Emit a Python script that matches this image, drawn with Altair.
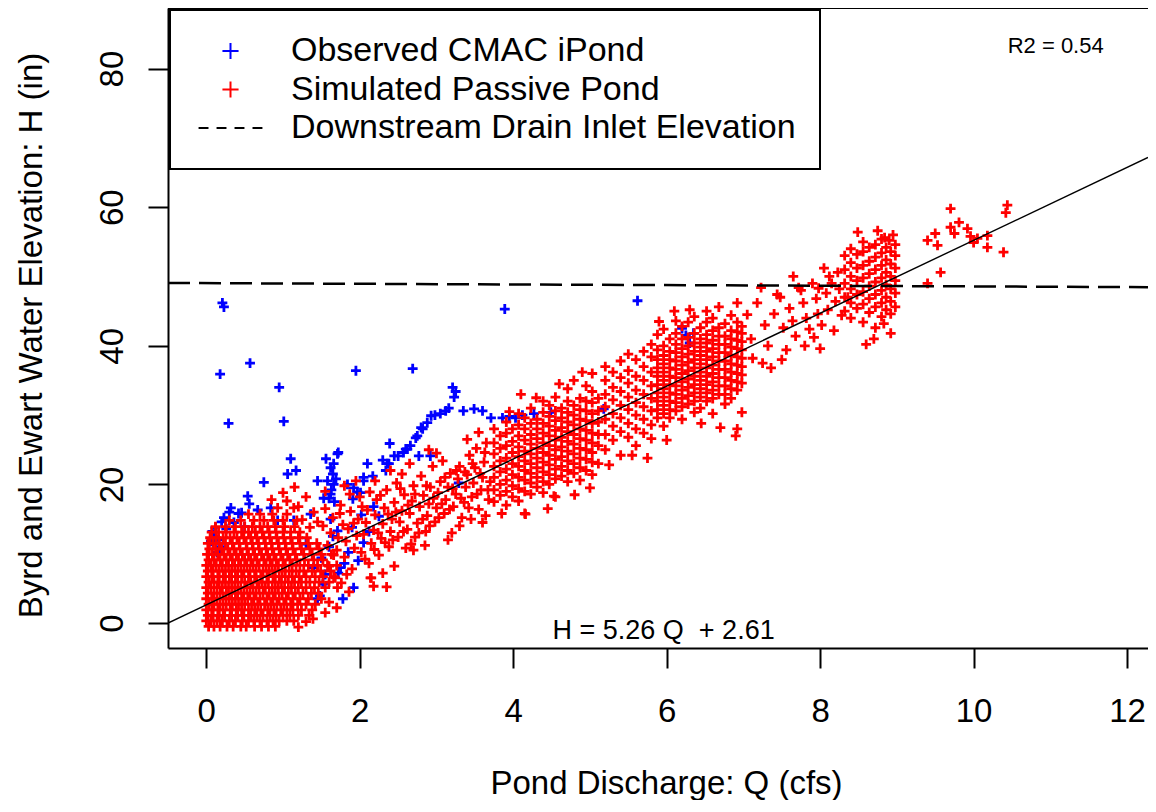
import altair as alt
import pandas as pd

FONT = "Liberation Sans"
SERIES = ["Observed CMAC iPond", "Simulated Passive Pond", "Downstream Drain Inlet Elevation"]
SERIES_COLORS = ["#0000ff", "#ff0000", "#000000"]
PLUS = "M-0.52,0H0.52M0,-0.52V0.52"
DASH = "M-2.06,0H-1.42M-0.9,0H-0.26M0.26,0H0.9M1.42,0H2.06"

x_ticks = [0, 2, 4, 6, 8, 10, 12]
y_ticks = [0, 20, 40, 60, 80]
x_domain = [-0.499, 12.273]
y_domain = [-3.61, 88.74]

# fitted line and drain elevation line (end points)
fit_q = [-0.499, 12.273]
fit_h = [-0.015, 67.17]
drain_q = [-0.499, 12.273]
drain_h = [49.06, 48.46]
# top frame line of the plot box
frame_q = [-0.499]
frame_q2 = [12.273]
frame_h = [88.74]

eq_text = ["H = 5.26 Q\u00a0 + 2.61"]
eq_q = [5.96]
eq_h = [-2.35]
r2_text = ["R2 = 0.54"]
r2_q = [11.07]
r2_h = [82.25]

# ---------------- Observed CMAC iPond (blue) ----------------
obs_outliers = [(0.21, 46.2), (0.23, 45.6), (0.18, 35.9), (0.57, 37.5), (0.29, 28.8), (0.95, 34.0),
                (1.01, 29.1), (1.95, 36.4), (2.69, 36.7), (3.89, 45.3), (5.62, 46.5)]
obs_trail = [(1.53, 18.0), (1.58, 20.5), (1.6, 18.0), (1.62, 18.6), (1.63, 19.2), (1.65, 21.5), (1.66, 20.0),
             (1.62, 22.4), (1.66, 23.0), (1.67, 17.5), (1.69, 20.8), (1.71, 24.4), (1.72, 24.6), (1.56, 23.7),
             (1.84, 20.0), (1.91, 17.9), (1.92, 19.5), (1.97, 18.9), (2.01, 18.8), (2.05, 20.5), (2.05, 21.0),
             (2.1, 23.0), (2.17, 21.2), (2.3, 23.5), (2.34, 22.0), (2.36, 23.0), (2.38, 23.0), (2.39, 25.9),
             (2.45, 24.1), (2.5, 24.1), (2.57, 24.6), (2.6, 25.1), (2.62, 25.1), (2.66, 25.6), (2.73, 26.7),
             (2.75, 27.0), (2.77, 24.1), (2.8, 28.2), (2.82, 28.0), (2.88, 28.9), (2.92, 24.1), (2.93, 29.9),
             (2.98, 30.0), (3.05, 30.2), (3.12, 30.6), (3.16, 31.0), (3.21, 34.0), (3.23, 32.6), (3.25, 33.4),
             (3.29, 20.2), (3.35, 30.6), (3.49, 30.9), (3.6, 30.6), (3.71, 29.6), (3.86, 29.6), (3.95, 29.8),
             (4.03, 29.6), (4.12, 30.0), (4.27, 30.2), (4.49, 30.4), (5.18, 30.9), (6.2, 42.5), (6.25, 41.5),
             (6.3, 40.4), (6.35, 41.8)]
obs_low = [(0.06, 11.8), (0.08, 13.2), (0.1, 12.4), (0.12, 13.8), (0.14, 10.2), (0.16, 12.0), (0.18, 11.0),
           (0.2, 14.6), (0.23, 15.2), (0.26, 13.6), (0.3, 16.0), (0.32, 16.6), (0.36, 14.5), (0.42, 15.8),
           (0.46, 15.9), (0.5, 13.9), (0.54, 18.3), (0.56, 17.2), (0.67, 16.3), (0.75, 20.3), (0.84, 16.6),
           (0.93, 14.8), (1.06, 21.5), (1.1, 23.7), (1.14, 14.8), (1.17, 22.0), (1.3, 11.4), (1.36, 15.7),
           (1.4, 8.0), (1.45, 3.5), (1.45, 20.5), (1.48, 3.9), (1.5, 9.4), (1.52, 5.6), (1.55, 7.0), (1.6, 11.0),
           (1.62, 15.0), (1.65, 12.5), (1.71, 13.3), (1.72, 7.2), (1.75, 8.0), (1.78, 3.5), (1.8, 8.6),
           (1.85, 10.2), (1.9, 13.8), (1.92, 5.1), (1.98, 9.0), (2.02, 15.6), (2.05, 11.6), (2.12, 13.2),
           (2.18, 16.8), (2.25, 15.4)]

# ---------------- Simulated Passive Pond (red) ----------------
# dense low-flow cloud, rows: H -> list of Q
sim_blob_rows = {
    -0.5: [0.03, 0.1, 0.18, 0.27, 0.35, 0.45, 0.52, 0.63, 0.72, 0.81, 0.9],
    0.3: [0.0, 0.06, 0.14, 0.21, 0.3, 0.38, 0.47, 0.55, 0.62, 0.7, 0.79, 0.87, 0.95, 1.05, 1.14],
    1.1: [0.02, 0.09, 0.17, 0.24, 0.33, 0.41, 0.49, 0.58, 0.66, 0.74, 0.83, 0.91, 1.0, 1.09, 1.2, 1.34],
    1.9: [0.0, 0.07, 0.15, 0.22, 0.31, 0.39, 0.46, 0.55, 0.63, 0.71, 0.8, 0.88, 0.97, 1.05, 1.13, 1.24, 1.38],
    2.7: [0.03, 0.1, 0.18, 0.26, 0.34, 0.42, 0.5, 0.59, 0.67, 0.76, 0.84, 0.92, 1.01, 1.1, 1.19, 1.3, 1.42],
    3.5: [0.0, 0.07, 0.14, 0.22, 0.3, 0.38, 0.46, 0.54, 0.62, 0.7, 0.79, 0.87, 0.95, 1.04, 1.13, 1.22, 1.33, 1.5],
    4.3: [0.02, 0.1, 0.18, 0.26, 0.33, 0.41, 0.49, 0.57, 0.65, 0.74, 0.82, 0.9, 0.99, 1.07, 1.16, 1.26, 1.37, 1.46],
    5.1: [0.0, 0.06, 0.14, 0.21, 0.29, 0.37, 0.45, 0.53, 0.61, 0.69, 0.77, 0.86, 0.94, 1.02, 1.11, 1.2, 1.3, 1.41, 1.55],
    5.9: [0.03, 0.1, 0.17, 0.25, 0.33, 0.41, 0.5, 0.58, 0.66, 0.73, 0.81, 0.9, 0.98, 1.07, 1.15, 1.24, 1.35, 1.47, 1.6],
    6.7: [0.0, 0.07, 0.15, 0.22, 0.3, 0.38, 0.46, 0.55, 0.63, 0.71, 0.79, 0.87, 0.95, 1.03, 1.12, 1.21, 1.3, 1.42, 1.52, 1.66],
    7.5: [0.02, 0.09, 0.17, 0.25, 0.33, 0.41, 0.49, 0.57, 0.65, 0.74, 0.82, 0.9, 0.99, 1.08, 1.17, 1.27, 1.38, 1.49, 1.62],
    8.3: [0.0, 0.06, 0.13, 0.21, 0.29, 0.37, 0.45, 0.53, 0.61, 0.69, 0.78, 0.86, 0.94, 1.03, 1.12, 1.22, 1.33, 1.45, 1.58, 1.7],
    9.1: [0.03, 0.1, 0.18, 0.26, 0.34, 0.42, 0.5, 0.58, 0.66, 0.75, 0.83, 0.91, 1.0, 1.09, 1.18, 1.28, 1.4, 1.52],
    9.9: [0.01, 0.08, 0.15, 0.23, 0.31, 0.39, 0.47, 0.55, 0.63, 0.72, 0.8, 0.88, 0.97, 1.06, 1.16, 1.27, 1.38, 1.5, 1.63],
    10.7: [0.04, 0.12, 0.2, 0.28, 0.36, 0.44, 0.53, 0.61, 0.69, 0.78, 0.86, 0.95, 1.04, 1.13, 1.24, 1.35, 1.47],
    11.5: [0.02, 0.09, 0.17, 0.25, 0.34, 0.43, 0.52, 0.6, 0.68, 0.77, 0.85, 0.94, 1.03, 1.12, 1.22, 1.33, 1.44],
    12.3: [0.05, 0.13, 0.22, 0.31, 0.4, 0.49, 0.58, 0.66, 0.75, 0.83, 0.92, 1.01, 1.1, 1.2, 1.31],
    13.1: [0.07, 0.16, 0.26, 0.36, 0.46, 0.55, 0.64, 0.73, 0.82, 0.91, 1.0, 1.1, 1.22],
    13.9: [0.12, 0.25, 0.38, 0.5, 0.6, 0.7, 0.8, 0.9, 1.02, 1.15],
    14.8: [0.3, 0.45, 0.62, 0.75, 0.88, 1.0, 1.18],
    15.7: [0.55, 0.7, 0.86, 1.05],
    16.6: [0.93, 1.14],
}
sim_blob_edge = [(1.05, 17.6), (1.2, 16.8), (1.3, 18.2), (1.4, 16.0), (1.25, 14.9), (1.35, 13.8), (1.45, 14.6),
                 (1.0, 18.8), (0.85, 17.8), (1.15, 19.6), (1.39, 0.6), (1.55, 1.5), (1.71, 5.1), (2.14, 6.5),
                 (2.18, 5.3), (1.2, -0.6), (1.3, 0.2)]
sim_band_b = [(1.52, 14.0), (1.55, 16.5), (1.58, 11.2), (1.62, 13.0), (1.65, 15.2), (1.7, 10.5), (1.72, 12.3),
              (1.75, 17.0), (1.78, 14.2), (1.8, 9.5), (1.82, 11.8), (1.85, 13.6), (1.88, 16.1), (1.9, 7.8),
              (1.93, 10.8), (1.96, 12.6), (1.98, 15.0), (2.0, 18.2), (1.68, 6.5), (1.76, 5.8), (1.86, 4.5),
              (1.6, 3.0), (1.7, 2.2), (1.95, 20.5), (1.8, 19.8), (1.55, 19.0),
              (2.02, 10.2), (2.05, 12.8), (2.08, 14.5), (2.1, 16.3), (2.12, 8.6), (2.15, 11.5), (2.18, 13.4),
              (2.2, 15.6), (2.22, 17.8), (2.25, 9.8), (2.28, 12.2), (2.3, 14.3), (2.32, 16.6), (2.35, 19.2),
              (2.38, 11.0), (2.4, 13.2), (2.42, 15.0), (2.45, 17.4), (2.48, 20.2), (2.5, 12.4), (2.52, 14.6),
              (2.55, 16.2), (2.58, 18.5), (2.6, 10.8), (2.3, 7.2), (2.45, 8.2), (2.55, 21.5), (2.2, 20.5),
              (2.4, 22.0), (2.15, 6.5), (2.35, 5.2),
              (2.62, 13.5), (2.65, 15.8), (2.68, 17.6), (2.7, 19.8), (2.72, 12.4), (2.75, 14.4), (2.78, 16.8),
              (2.8, 21.2), (2.83, 18.4), (2.86, 13.2), (2.88, 15.5), (2.9, 17.2), (2.92, 19.6), (2.95, 22.6),
              (2.98, 14.6), (3.0, 16.6), (3.02, 18.8), (3.05, 20.4), (3.08, 23.4), (3.1, 15.8), (3.12, 17.8),
              (3.15, 19.6), (3.18, 21.6), (3.2, 13.0), (2.7, 10.5), (2.85, 11.2), (3.0, 24.5), (2.65, 23.0),
              (2.9, 25.0), (3.15, 12.0),
              (3.22, 16.8), (3.25, 18.6), (3.28, 20.8), (3.3, 22.6), (3.33, 15.2), (3.36, 17.4), (3.38, 19.6),
              (3.4, 21.4), (3.43, 24.2), (3.46, 18.2), (3.48, 20.2), (3.5, 22.4), (3.52, 25.2), (3.55, 16.4),
              (3.58, 19.2), (3.6, 21.0), (3.62, 23.2), (3.65, 26.0), (3.68, 17.8), (3.7, 20.4), (3.3, 14.0),
              (3.45, 15.0), (3.6, 14.5), (3.4, 26.5), (3.55, 27.5)]
sim_band_b2 = [(1.6, 8.2), (1.66, 9.8), (1.74, 15.8), (1.83, 7.0), (1.87, 18.6), (1.92, 14.4), (2.03, 16.8),
               (2.07, 9.2), (2.13, 18.9), (2.19, 10.6), (2.24, 13.0), (2.27, 18.4), (2.33, 11.6), (2.37, 15.7),
               (2.43, 12.0), (2.47, 16.0), (2.53, 19.4), (2.57, 13.2), (2.63, 17.0), (2.67, 11.4), (2.72, 18.6),
               (2.77, 13.0), (2.82, 15.0), (2.87, 19.8), (2.91, 14.0), (2.96, 18.0), (3.03, 15.2), (3.07, 17.2),
               (3.11, 21.0), (3.17, 16.4), (3.21, 19.4), (3.26, 22.0), (3.32, 18.0), (3.37, 21.8), (3.42, 16.6),
               (3.47, 23.0), (3.53, 18.6), (3.57, 21.6), (3.63, 24.6), (3.67, 19.2)]
# mid-flow band, columns: Q -> list of H
sim_cols_c = {
    3.75: [17.5, 19.2, 21.0, 22.6, 24.4, 26.0, 28.0],
    3.83: [18.4, 20.0, 21.8, 23.4, 25.2, 27.0],
    3.91: [17.0, 19.0, 20.6, 22.2, 23.8, 25.6, 27.4, 29.0],
    3.99: [18.2, 19.8, 21.4, 23.0, 24.6, 26.2, 28.0],
    4.07: [17.6, 19.4, 21.0, 22.6, 24.0, 25.4, 27.0, 28.6, 30.2],
    4.15: [15.8, 19.0, 20.6, 22.0, 23.4, 24.8, 26.4, 28.0, 29.6],
    4.23: [18.6, 20.2, 21.6, 23.0, 24.4, 25.8, 27.2, 28.8, 31.0],
    4.31: [19.6, 21.0, 22.4, 23.8, 25.2, 26.6, 28.0, 29.4],
    4.39: [18.8, 20.4, 21.8, 23.2, 24.6, 26.0, 27.4, 28.8, 30.4, 32.0],
    4.47: [20.0, 21.4, 22.8, 24.2, 25.6, 27.0, 28.4, 29.8, 31.4],
    4.55: [18.2, 20.8, 22.2, 23.6, 25.0, 26.4, 27.8, 29.2, 30.6, 32.6],
    4.63: [21.2, 22.6, 24.0, 25.4, 26.8, 28.2, 29.6, 31.0],
    4.71: [20.4, 22.0, 23.4, 24.8, 26.2, 27.6, 29.0, 30.4, 32.0, 33.8],
    4.79: [21.6, 23.0, 24.4, 25.8, 27.2, 28.6, 30.0, 31.4, 35.0],
    4.87: [20.6, 22.4, 23.8, 25.2, 26.6, 28.0, 29.4, 30.8, 32.4],
    4.95: [22.0, 23.6, 25.0, 26.4, 27.8, 29.2, 30.6, 32.0, 34.2],
    5.03: [21.4, 23.2, 24.6, 26.0, 27.4, 28.8, 30.2, 31.8, 33.4, 36.0],
    5.11: [23.0, 25.6, 27.2, 29.0, 30.6, 32.4],
}
sim_extra_c = [(4.16, 15.7), (4.53, 18.3), (3.64, 15.5), (3.95, 30.5), (4.3, 32.5), (4.1, 33.0), (4.6, 34.5),
               (4.9, 36.2), (4.45, 16.5), (5.0, 19.5), (4.8, 18.5), (3.85, 15.8)]
sim_cols_d = {
    5.2: [25.0, 27.2, 29.4, 31.2, 33.0, 35.0, 37.0],
    5.3: [26.4, 28.4, 30.2, 32.2, 34.0, 36.2],
    5.4: [24.2, 27.6, 29.6, 31.4, 33.4, 35.4, 37.8],
    5.5: [26.8, 28.8, 30.8, 32.6, 34.6, 36.4],
    5.6: [25.6, 28.0, 30.0, 31.8, 33.6, 35.6, 38.0],
    5.7: [27.4, 29.4, 31.2, 33.0, 35.0, 37.0, 39.2],
    5.8: [26.6, 28.6, 30.6, 32.4, 34.2, 36.2, 38.4, 40.2],
    5.88: [29.6, 30.8, 32.0, 33.2, 34.4, 35.6, 36.8, 38.0, 39.4, 41.6],
    5.96: [28.4, 30.2, 31.4, 32.6, 33.8, 35.0, 36.2, 37.4, 38.6, 40.0, 42.4],
    6.04: [29.6, 30.8, 32.0, 33.2, 34.4, 35.6, 36.8, 38.0, 39.2, 41.0],
    6.12: [30.6, 31.8, 33.0, 34.2, 35.4, 36.6, 37.8, 39.0, 40.2, 41.8, 43.6],
    6.2: [29.4, 31.2, 32.4, 33.6, 34.8, 36.0, 37.2, 38.4, 39.6, 41.0, 42.8],
    6.28: [31.6, 32.8, 34.0, 35.2, 36.4, 37.6, 38.8, 40.0, 41.2, 43.4],
    6.36: [30.4, 32.0, 33.2, 34.4, 35.6, 36.8, 38.0, 39.2, 40.4, 41.8, 44.2],
    6.44: [31.0, 32.6, 33.8, 35.0, 36.2, 37.4, 38.6, 39.8, 41.0, 42.6],
    6.52: [32.0, 33.2, 34.4, 35.6, 36.8, 38.0, 39.2, 40.4, 41.6, 43.4, 45.0],
    6.6: [30.2, 32.4, 33.6, 34.8, 36.0, 37.2, 38.4, 39.6, 40.8, 42.2, 44.0],
    6.68: [33.0, 34.2, 35.4, 36.6, 37.8, 39.0, 40.2, 41.4, 42.6, 45.6],
    6.76: [31.6, 33.0, 34.2, 35.4, 36.6, 37.8, 39.0, 40.2, 41.4, 43.2],
    6.84: [32.4, 33.8, 35.0, 36.2, 37.4, 38.6, 39.8, 41.0, 42.2, 44.4],
    6.92: [28.0, 33.6, 34.8, 36.0, 37.2, 38.4, 39.6, 40.8, 42.0, 43.4, 46.2],
    6.98: [30.4, 34.6, 35.8, 37.0, 38.2, 39.4, 40.6, 41.8, 42.8],
}
sim_extra_d = [(6.9, 27.0), (6.7, 28.2), (6.45, 28.8), (6.0, 26.4), (5.55, 24.2), (5.75, 23.8), (6.3, 45.2),
               (6.1, 45.0), (5.9, 43.5), (5.5, 38.8), (5.25, 22.8)]
sim_scatter_e = [(7.05, 44.5), (7.1, 41.0), (7.12, 38.2), (7.18, 46.2), (7.23, 48.4), (7.28, 43.0), (7.32, 40.0),
                 (7.36, 36.8), (7.4, 44.6), (7.44, 47.4), (7.48, 47.0), (7.52, 42.6), (7.56, 39.4), (7.6, 45.4),
                 (7.64, 43.6), (7.68, 41.4), (7.72, 48.4), (7.75, 48.0), (7.78, 46.2), (7.82, 44.0), (7.86, 42.4),
                 (7.9, 49.0), (7.92, 41.2), (7.95, 46.8), (7.97, 44.6), (7.98, 48.3), (8.02, 43.0), (8.05, 51.2),
                 (8.08, 47.6), (8.1, 45.2), (8.12, 50.0), (8.15, 49.0), (8.18, 42.2), (8.2, 46.4), (8.23, 50.6),
                 (8.25, 48.2), (8.28, 44.4), (7.5, 38.0), (7.25, 37.5), (7.8, 40.0), (7.65, 50.0), (8.0, 39.6),
                 (8.83, 43.2), (8.36, 47.0), (8.7, 41.0), (8.6, 40.2), (8.49, 56.4), (8.75, 56.6), (8.84, 55.6),
                 (8.9, 55.2), (8.95, 56.0)]
sim_cols_e = {
    8.32: [45.0, 47.0, 49.0, 51.0, 53.0],
    8.4: [44.0, 46.2, 48.2, 50.0, 52.0, 54.0],
    8.48: [45.4, 47.4, 49.4, 51.2, 53.2],
    8.56: [43.4, 46.0, 47.8, 49.8, 51.6, 53.6, 55.0],
    8.64: [44.8, 46.8, 48.6, 50.4, 52.2, 54.2],
    8.72: [42.6, 45.6, 47.4, 49.2, 51.0, 52.8, 54.6],
    8.8: [44.2, 46.2, 48.0, 49.8, 51.6, 53.4, 55.4],
    8.86: [45.2, 47.0, 48.8, 50.6, 52.4, 54.2],
    8.92: [41.8, 44.6, 46.4, 48.2, 50.0, 51.8, 53.6],
    8.98: [45.6, 47.6, 49.4, 51.2, 53.0, 54.6],
}
sim_far = [(9.4, 55.2), (9.5, 56.2), (9.53, 54.5), (9.7, 59.8), (9.81, 57.8), (9.7, 57.1), (9.92, 56.9),
           (9.96, 55.8), (10.0, 54.9), (10.18, 55.9), (10.18, 54.2), (10.42, 59.2), (10.44, 60.3),
           (10.39, 53.5), (9.57, 50.6), (9.4, 49.0), (9.75, 56.2), (10.05, 55.5)]

# ---------------- build tables ----------------
rows = []
for q, h in obs_outliers + obs_trail + obs_low:
    rows.append({"q": q, "h": h, "series": SERIES[0]})
for h, qs in sim_blob_rows.items():
    for q in qs:
        rows.append({"q": q, "h": h, "series": SERIES[1]})
for cols in (sim_cols_c, sim_cols_d, sim_cols_e):
    for q, hs in cols.items():
        for h in hs:
            rows.append({"q": q, "h": h, "series": SERIES[1]})
for q, h in (sim_blob_edge + sim_band_b + sim_band_b2 + sim_extra_c + sim_extra_d
             + sim_scatter_e + sim_far):
    rows.append({"q": q, "h": h, "series": SERIES[1]})
points_df = pd.DataFrame(rows)

fit_df = pd.DataFrame({"q": fit_q, "h": fit_h})
drain_df = pd.DataFrame({"q": drain_q, "h": drain_h})
frame_df = pd.DataFrame({"q": frame_q, "q2": frame_q2, "h": frame_h})
eq_df = pd.DataFrame({"q": eq_q, "h": eq_h, "t": eq_text})
r2_df = pd.DataFrame({"q": r2_q, "h": r2_h, "t": r2_text})

xs = alt.Scale(domain=x_domain, nice=False, zero=False)
ys = alt.Scale(domain=y_domain, nice=False, zero=False)

x_axis = alt.Axis(values=x_ticks, title="Pond Discharge: Q (cfs)", domain=True, domainColor="black",
                  domainWidth=2, grid=False,
                  tickSize=20, tickWidth=2, tickColor="black",
                  labelFontSize=33, labelFont=FONT, labelColor="black", labelBaseline="alphabetic",
                  labelPadding=53, labelFlush=False, labelAlign="center", format="d",
                  titleFontSize=33, titleFont=FONT, titleFontWeight="normal", titleColor="black",
                  titleBaseline="alphabetic", titleAlign="center", titleX=498, titleY=145)
y_axis = alt.Axis(values=y_ticks, title="Byrd and Ewart Water Elevation: H (in)", domain=True,
                  domainColor="black", domainWidth=2, grid=False,
                  tickSize=20, tickWidth=2, tickColor="black",
                  labelFontSize=33, labelFont=FONT, labelColor="black", labelAngle=270,
                  labelAlign="center", labelBaseline="alphabetic", labelPadding=26, labelFlush=False,
                  format="d",
                  titleFontSize=33, titleFont=FONT, titleFontWeight="normal", titleColor="black",
                  titleAngle=270, titleBaseline="alphabetic", titleAlign="center", titleX=-127, titleY=327)

legend = alt.Legend(title=None, orient="none", legendX=2, legendY=2, direction="vertical", labelLimit=1000)


def xenc(field="q"):
    return alt.X(f"{field}:Q", scale=xs, axis=x_axis)


def yenc():
    return alt.Y("h:Q", scale=ys, axis=y_axis)


pts = alt.Chart(points_df).mark_point(filled=False, size=360, strokeWidth=2.8, opacity=1).encode(
    x=xenc(), y=yenc(),
    color=alt.Color("series:N", scale=alt.Scale(domain=SERIES, range=SERIES_COLORS), legend=legend),
    shape=alt.Shape("series:N", scale=alt.Scale(domain=SERIES, range=[PLUS, PLUS, DASH]), legend=legend),
)

fit_line = alt.Chart(fit_df).mark_line(color="black", strokeWidth=1.4, clip=True).encode(x=xenc(), y=yenc())
drain_line = alt.Chart(drain_df).mark_line(color="black", strokeWidth=2.5, strokeDash=[22, 9],
                                           clip=True).encode(x=xenc(), y=yenc())
frame_top = alt.Chart(frame_df).mark_rule(color="black", strokeWidth=2).encode(
    x=xenc(), x2="q2", y=yenc())
eq_label = alt.Chart(eq_df).mark_text(font=FONT, fontSize=27, color="black", align="center",
                                      baseline="alphabetic").encode(x=xenc(), y=yenc(), text="t:N")
r2_label = alt.Chart(r2_df).mark_text(font=FONT, fontSize=22, color="black", align="center",
                                      baseline="alphabetic").encode(x=xenc(), y=yenc(), text="t:N")

chart = alt.layer(pts, fit_line, drain_line, frame_top, eq_label, r2_label).properties(
    width=980, height=640,
    padding={"left": 160, "top": 0, "right": 0, "bottom": 152},
    autosize=alt.AutoSizeParams(type="none"),
).configure(font=FONT).configure_view(
    stroke=None
).configure_legend(
    padding=24, rowPadding=4.5, strokeColor="black", strokeWidth=2, fillColor="white",
    labelFontSize=34, labelFont=FONT, labelColor="black",
    symbolSize=961, symbolStrokeWidth=2, symbolOffset=19.5, labelOffset=43.5,
)

chart.save("out.html", embed_options={"renderer": "svg", "actions": False})
